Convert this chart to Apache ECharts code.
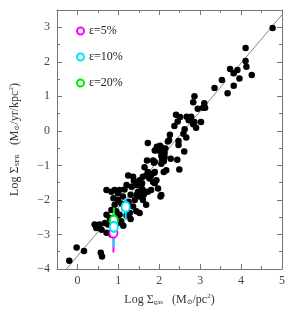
<!DOCTYPE html>
<html><head><meta charset="utf-8">
<script src="https://cdn.jsdelivr.net/npm/echarts@6/dist/echarts.min.js"></script>
<style>html,body{margin:0;padding:0;background:#fff}#c{width:300px;height:311px}</style>
</head><body><div id="c"></div>
<script>
// Filled galaxies: [log Sigma_gas, log Sigma_SFR]
const filledPts = [
[4.77,2.98],[4.11,2.40],[4.11,2.02],[4.13,1.86],[4.26,1.62],[3.73,1.79],[3.82,1.67],[3.91,1.76],[3.96,1.52],[3.53,1.47],[3.82,1.31],[3.35,1.24],[3.67,1.09],
[2.86,1.00],[2.83,0.83],[3.10,0.80],[3.12,0.67],[3.07,0.67],[2.94,0.64],[2.41,0.47],[2.51,0.40],[2.67,0.41],[2.78,0.41],[2.72,0.31],[2.86,0.26],[3.02,0.26],[2.37,0.14],[2.45,0.27],[2.83,0.19],[2.90,0.09],[2.62,0.05],[2.59,-0.08],[2.66,-0.19],[2.26,-0.11],[2.24,-0.27],[2.47,-0.29],[2.47,-0.41],[2.61,-0.60],[1.94,-0.46],[2.02,-0.43],[1.89,-0.57],[1.97,-0.57],[2.15,-0.51],[2.08,-0.72],
[1.72,-0.35],[2.13,-0.64],[2.05,-0.72],[1.89,-0.90],[2.11,-0.88],[2.28,-0.81],[2.44,-0.84],[2.17,-1.14],[2.49,-1.12],[1.89,-1.19],[1.85,-1.48],[1.80,-1.71],[2.03,-1.90],
[1.70,-0.86],[2.05,-0.95],[2.11,-1.19],[1.64,-1.05],[1.72,-1.19],[1.80,-1.29],[1.93,-1.43],[2.05,-1.86],[1.89,-1.52],[1.24,-1.29],[1.36,-1.33],[1.52,-1.43],[1.20,-1.57],[1.32,-1.62],[1.44,-1.57],[1.56,-1.62],[1.60,-1.71],[1.72,-1.76],[1.48,-1.76],[1.52,-1.90],[1.60,-2.00],[1.68,-2.14],[1.40,-2.00],[1.36,-2.19],[1.44,-2.33],[1.52,-2.38],[1.28,-2.38],[1.11,-1.90],[0.99,-1.81],[0.91,-1.71],[1.03,-1.71],[0.71,-1.71],[0.83,-1.76],[0.99,-2.00],[1.07,-2.10],[0.91,-2.14],[0.83,-2.29],[0.95,-2.33],[0.71,-2.43],[0.79,-2.52],[1.03,-2.43],[1.07,-2.62],[0.99,-2.67],[0.75,-2.71],[0.67,-2.67],[0.54,-2.71],[0.42,-2.71],[0.46,-2.81],[0.59,-2.86],[0.71,-2.95],[0.83,-3.00],[2.09,-0.86],[1.97,-1.67],
[-0.20,-3.76],[-0.02,-3.38],[0.16,-3.48],[0.57,-3.53],[0.60,-3.64],
[2.21,-0.31],[2.05,-0.48],[2.09,-0.57],[2.13,-0.76],[2.07,-0.81],[1.85,-0.86],[1.87,-0.92],[1.60,-1.33],[1.68,-1.29],[1.76,-1.38],[1.87,-1.22],
[1.15,-2.25],[1.20,-2.45],[1.25,-2.05],[1.15,-1.70],[1.30,-1.85],[1.45,-1.85],[1.38,-1.45],[1.58,-1.52],[1.62,-1.85],[0.88,-1.95],[1.12,-2.75],[1.30,-2.55],[0.95,-2.50]
];
// Open-circle galaxies
const openPts = [
[3.65,1.55],[2.19,1.11],[2.41,1.24],[2.20,0.62],[1.93,0.19],[3.02,0.83],[1.26,-0.52],[1.90,-0.79],
[0.63,-3.43],[0.65,-3.67],[1.10,-3.71],[0.80,-3.12],[0.72,-3.20],[0.80,-1.80],[1.15,-1.45],[1.14,-1.33]
];
// Kennicutt law line endpoints
const lawLine = [[-0.27,-4.0],[5.0,3.36]];
// Model points with error bars: x, y, low, high
const eps5X = [0.88], eps5Y = [-2.95], eps5Lo = [-3.52], eps5Hi = [-2.58];
const eps10X = [0.89, 1.18], eps10Y = [-2.78, -2.20], eps10Lo = [-3.36, -2.58], eps10Hi = [-2.38, -1.95];
const eps20X = [0.89], eps20Y = [-2.60], eps20Lo = [-3.00], eps20Hi = [-2.22];
// Ticks
const xMajor = [0,1,2,3,4,5], xMinor = [0.5,1.5,2.5,3.5,4.5];
const yMajor = [-4,-3,-2,-1,0,1,2,3], yMinor = [-3.5,-2.5,-1.5,-0.5,0.5,1.5,2.5,3.5];

const FONT = '"Liberation Serif", "DejaVu Serif", serif';
const AX = '#777';
const fmt = v => String(v).replace('-', '\u2212');

function axis(kind, pos, major, ticks, len, labels, line) {
  return {
    type: 'value', position: pos, gridIndex: 0,
    min: kind === 'x' ? -0.5 : -4, max: kind === 'x' ? 5 : 3.5, interval: 0.5,
    splitLine: {show: false},
    axisLine: {show: line, onZero: false, lineStyle: {color: AX, width: 1}},
    axisTick: {show: true, inside: true, length: len, customValues: ticks, lineStyle: {color: AX, width: 1}},
    axisLabel: labels ? {show: true, customValues: major, formatter: fmt, fontFamily: FONT, fontSize: 12, color: '#444', margin: kind === 'x' ? 6 : 7} : {show: false}
  };
}

const xAxes = [
  axis('x','bottom',xMajor,xMajor,5,true,true),
  axis('x','bottom',xMajor,xMinor,3,false,false),
  axis('x','top',xMajor,xMajor,5,false,true),
  axis('x','top',xMajor,xMinor,3,false,false)
];
const yAxes = [
  axis('y','left',yMajor,yMajor,5,true,true),
  axis('y','left',yMajor,yMinor,3,false,false),
  axis('y','right',yMajor,yMajor,5,false,true),
  axis('y','right',yMajor,yMinor,3,false,false)
];
const nameStyle = {fontFamily: FONT, fontSize: 12, color: '#333',
  rich: {sub: {fontSize: 7, verticalAlign: 'bottom', padding: [6,0,0,0], fontFamily: FONT, color:'#333'},
         sup: {fontSize: 7, verticalAlign: 'top', padding: [0,0,6,0], fontFamily: FONT, color:'#333'}}};
xAxes[0].name = 'Log \u03A3{sub|gas}   (M{sub|\u2299}/pc{sup|2})';
xAxes[0].nameLocation = 'middle';
xAxes[0].nameGap = 24;
xAxes[0].nameTextStyle = nameStyle;
yAxes[0].name = 'Log \u03A3{sub|SFR}   (M{sub|\u2299}/yr/kpc{sup|2})';
yAxes[0].nameLocation = 'middle';
yAxes[0].nameGap = 36;
yAxes[0].nameRotate = 90;
yAxes[0].nameTextStyle = nameStyle;

function bars(xs, lo, hi) { return xs.map((x,i) => [[x, lo[i]], [x, hi[i]]]); }
function errSeries(name, color, xs, ys, lo, hi) {
  const out = [];
  bars(xs, lo, hi).forEach(seg => out.push({
    type: 'line', data: seg, symbol: 'none', silent: true, z: 5,
    lineStyle: {color: color, width: 2}, xAxisIndex: 0, yAxisIndex: 0
  }));
  out.push({
    name: name, type: 'scatter', data: xs.map((x,i)=>[x, ys[i]]), z: 6,
    symbol: 'emptyCircle', symbolSize: [8, 10],
    itemStyle: {color: color, borderColor: color, borderWidth: 2, opacity: 1},
    xAxisIndex: 0, yAxisIndex: 0
  });
  return out;
}

const series = [
  {type: 'line', data: lawLine, symbol: 'none', lineStyle: {color: '#666', width: 0.8}, z: 1, xAxisIndex: 0, yAxisIndex: 0, silent: true},
  {type: 'scatter', data: openPts, symbol: 'emptyCircle', symbolSize: 5, itemStyle: {color: '#fff', borderColor: '#777', borderWidth: 1, opacity: 1}, z: 2, xAxisIndex: 0, yAxisIndex: 0},
  {type: 'scatter', data: filledPts, symbol: 'circle', symbolSize: 6.5, itemStyle: {color: '#000', opacity: 1}, z: 3, xAxisIndex: 0, yAxisIndex: 0},
  ...errSeries('\u03B5=5%', '#ff00ff', eps5X, eps5Y, eps5Lo, eps5Hi),
  ...errSeries('\u03B5=20%', '#00ee00', eps20X, eps20Y, eps20Lo, eps20Hi),
  ...errSeries('\u03B5=10%', '#00e5ff', eps10X, eps10Y, eps10Lo, eps10Hi)
];

const chart = echarts.init(document.getElementById('c'), null, {renderer: 'canvas'});
chart.setOption({
  animation: false,
  backgroundColor: '#fff',
  grid: {left: 55, right: 18, top: 10, bottom: 36, containLabel: false},
  xAxis: xAxes,
  yAxis: yAxes,
  legend: {
    data: ['\u03B5=5%', '\u03B5=10%', '\u03B5=20%'],
    orient: 'vertical', left: 71, top: 20, itemGap: 14, itemWidth: 7, itemHeight: 10,
    icon: 'emptyCircle',
    itemStyle: {borderWidth: 2},
    textStyle: {fontFamily: FONT, fontSize: 12, color: '#222'},
    selectedMode: false
  },
  series: series
});
</script></body></html>
